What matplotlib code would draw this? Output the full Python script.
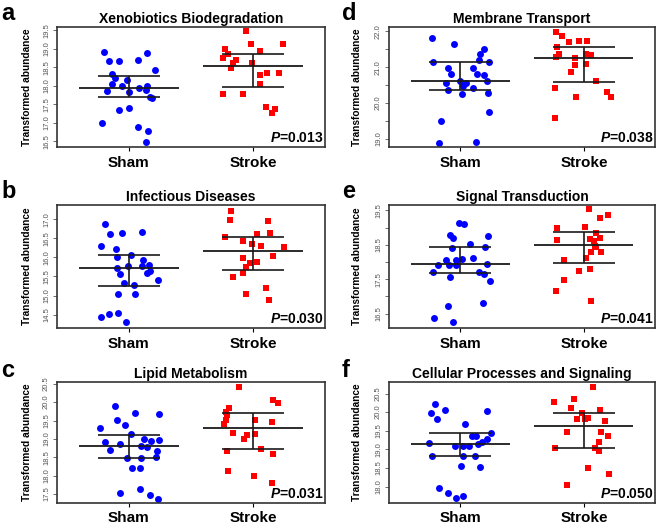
import numpy as np
import matplotlib
matplotlib.use('Agg')
import matplotlib.pyplot as plt

plt.rcParams['font.family'] = ['Liberation Sans', 'DejaVu Sans']
plt.rcParams['mathtext.fontset'] = 'custom'
plt.rcParams['mathtext.it'] = 'Liberation Sans:italic:bold'
plt.rcParams['mathtext.rm'] = 'Liberation Sans:bold'

groups = ['Sham', 'Stroke']

# a - Xenobiotics Biodegradation
xeno_sham = [18.92, 18.68, 18.68, 18.90, 18.69, 18.43, 18.33, 18.20, 18.15, 18.05, 18.00, 17.87,
             17.84, 17.95, 18.00, 17.88, 17.71, 17.66, 17.41, 17.36, 16.99, 16.88, 16.77, 16.48]
xeno_sham_jit = [-0.20, -0.156, -0.08, 0.148, 0.075, 0.21, -0.13, -0.11, -0.01, -0.134, -0.054, -0.177,
                 0.005, 0.086, 0.148, 0.14, 0.174, 0.188, 0.005, -0.075, -0.21, 0.072, 0.158, 0.14]
xeno_stroke = [19.47, 19.12, 19.14, 18.99, 18.87, 18.94, 18.76, 18.71, 18.63, 18.63,
               18.47, 18.35, 18.35, 18.29, 18.06, 17.77, 17.77, 17.44, 17.38, 17.28]
xeno_stroke_jit = [-0.062, -0.019, 0.236, -0.228, -0.2, 0.05, -0.24, -0.14, -0.16, -0.008,
                   -0.18, 0.107, 0.207, 0.054, 0.054, -0.247, -0.086, 0.1, 0.17, 0.148]
xeno_bars = [(17.71, 17.95, 18.26), (17.97, 18.55, 18.86)]

# b - Infectious Diseases
infect_sham = [16.87, 16.61, 16.63, 16.67, 16.30, 16.21, 16.02, 16.05, 15.93, 15.73, 15.77, 15.77, 15.79,
               15.56, 15.65, 15.58, 15.41, 15.33, 15.27, 15.03, 15.03, 14.43, 14.51, 14.53, 14.30]
infect_sham_jit = [-0.19, -0.151, -0.054, 0.108, -0.219, -0.103, -0.097, 0.022, 0.116, -0.095, -0.005, 0.103, 0.16,
                   -0.068, 0.17, 0.151, 0.238, -0.04, 0.04, -0.089, 0.054, -0.224, -0.154, -0.089, -0.022]
infect_stroke = [17.22, 16.98, 16.95, 16.54, 16.61, 16.65, 16.44, 16.34, 16.30, 16.28,
                 16.04, 15.97, 15.84, 15.89, 15.76, 15.49, 15.59, 15.19, 15.04, 14.89]
infect_stroke_jit = [-0.178, -0.19, 0.114, -0.224, 0.03, 0.13, -0.086, -0.008, 0.062, 0.246,
                     0.154, -0.081, -0.027, 0.027, -0.06, -0.162, -0.086, 0.1, -0.057, 0.127]
infect_bars = [(15.26, 15.71, 16.06), (15.68, 16.16, 16.54)]

# c - Lipid Metabolism
lipid_sham = [19.89, 19.71, 19.67, 19.52, 19.38, 19.30, 19.12, 18.91, 18.86, 19.00, 18.98, 18.94, 18.69,
              18.80, 18.77, 18.68, 18.48, 18.49, 18.51, 18.21, 18.21, 17.53, 17.63, 17.48, 17.37]
lipid_sham_jit = [-0.107, 0.053, 0.24, -0.091, -0.029, -0.227, 0.021, -0.192, -0.067, 0.125, 0.243, 0.181, -0.149,
                  0.099, 0.147, 0.229, -0.011, 0.099, 0.216, 0.029, 0.093, -0.072, 0.093, 0.171, 0.232]
lipid_stroke = [20.42, 20.05, 19.97, 19.85, 19.73, 19.65, 19.52, 19.40, 19.51, 19.47,
                19.15, 19.10, 18.99, 19.13, 18.72, 18.68, 18.60, 18.13, 17.98, 17.79]
lipid_stroke_jit = [-0.115, 0.16, 0.197, -0.197, -0.219, -0.213, -0.221, -0.237, 0.016, 0.147,
                    -0.16, -0.053, -0.077, 0.013, 0.061, -0.208, 0.155, -0.2, 0.008, 0.147]
lipid_bars = [(18.47, 18.80, 19.11), (18.72, 19.29, 19.70)]

# d - Membrane Transport
membr_sham = [21.82, 21.64, 21.52, 21.37, 21.15, 21.15, 21.20, 20.97, 20.98, 20.81, 20.82, 20.79, 20.61,
              20.55, 20.55, 20.49, 20.61, 20.37, 20.43, 20.25, 20.28, 19.75, 19.49, 18.90, 18.93]
membr_sham_jit = [-0.23, -0.046, 0.19, 0.16, -0.217, 0.23, 0.154, -0.095, 0.106, -0.07, 0.133, 0.19, 0.0,
                  -0.117, 0.049, 0.027, 0.217, -0.095, 0.106, 0.016, 0.222, 0.236, -0.152, -0.17, 0.13]
membr_stroke = [21.98, 21.86, 21.70, 21.74, 21.74, 21.57, 21.38, 21.29, 21.36, 21.34,
                21.27, 21.06, 21.10, 20.86, 20.63, 20.41, 20.18, 20.30, 20.18, 19.60]
membr_stroke_jit = [-0.228, -0.18, -0.12, -0.04, 0.024, -0.22, -0.2, -0.222, 0.016, 0.06,
                    -0.073, -0.073, 0.014, -0.1, 0.1, -0.236, -0.06, 0.187, 0.22, -0.233]
membr_bars = [(20.37, 20.62, 21.14), (20.58, 21.26, 21.57)]

# e - Signal Transduction
signal_sham = [19.14, 19.11, 18.80, 18.69, 18.75, 18.52, 18.41, 18.45, 18.06, 18.05, 18.10, 18.13, 17.92,
               17.92, 17.92, 17.94, 17.71, 17.70, 17.65, 17.55, 17.46, 16.80, 16.72, 16.37, 16.25]
signal_sham_jit = [-0.013, 0.032, -0.08, -0.056, 0.223, 0.08, -0.062, 0.204, -0.113, -0.032, 0.019, 0.1, -0.18,
                   -0.094, -0.035, 0.218, -0.223, 0.153, 0.19, -0.08, 0.242, 0.185, -0.102, -0.21, -0.054]
signal_stroke = [19.55, 19.38, 19.28, 18.98, 19.03, 18.85, 18.65, 18.67, 18.69, 18.60, 18.47,
                 18.43, 18.28, 18.30, 18.13, 18.06, 17.75, 17.79, 17.48, 17.16, 16.87]
signal_stroke_jit = [0.04, 0.196, 0.134, -0.218, 0.011, 0.097, -0.22, 0.048, 0.129, 0.083, 0.089,
                     0.102, 0.056, 0.137, 0.016, -0.159, -0.043, 0.046, -0.161, -0.226, 0.056]
signal_bars = [(17.69, 17.95, 18.45), (17.98, 18.51, 18.88)]

# f - Cellular Processes and Signaling
cell_sham = [20.23, 20.07, 19.98, 19.81, 20.02, 19.69, 19.44, 19.35, 19.35, 19.28, 19.21, 19.17, 19.15,
             19.08, 19.10, 19.10, 18.82, 18.83, 18.81, 18.55, 18.54, 17.96, 17.84, 17.70, 17.75]
cell_sham_jit = [-0.206, -0.12, -0.235, -0.187, 0.214, 0.037, 0.251, 0.094, 0.131, 0.214, 0.176, -0.249, 0.142,
                 -0.04, 0.024, 0.07, -0.23, 0.021, 0.118, 0.005, 0.158, -0.174, -0.099, -0.032, 0.027]
cell_stroke = [20.67, 20.28, 20.35, 20.12, 19.99, 20.05, 19.81, 19.81, 19.84, 19.77,
               19.48, 19.46, 19.37, 19.21, 19.03, 19.03, 18.95, 18.51, 18.34, 18.04]
cell_stroke_jit = [0.07, -0.238, -0.078, -0.104, -0.011, 0.131, -0.059, 0.011, 0.037, 0.168,
                   0.136, -0.134, 0.198, 0.126, -0.23, 0.094, 0.126, 0.037, 0.206, -0.134]
cell_bars = [(18.81, 19.15, 19.43), (19.03, 19.62, 19.98)]

titles = ['Xenobiotics Biodegradation', 'Infectious Diseases', 'Lipid Metabolism',
          'Membrane Transport', 'Signal Transduction', 'Cellular Processes and Signaling']
letters = ['a', 'b', 'c', 'd', 'e', 'f']
pvalues = ['0.013', '0.030', '0.031', '0.038', '0.041', '0.050']
yticks = [[16.5, 17.0, 17.5, 18.0, 18.5, 19.0, 19.5],
          [14.5, 15.0, 15.5, 16.0, 16.5, 17.0],
          [17.5, 18.0, 18.5, 19.0, 19.5, 20.0, 20.5],
          [19.0, 19.5, 20.0, 20.5, 21.0, 21.5, 22.0],
          [16.5, 17.0, 17.5, 18.0, 18.5, 19.0, 19.5],
          [18.0, 18.5, 19.0, 19.5, 20.0, 20.5]]
ytick_labels = [['16.5', '17.0', '17.5', '18.0', '18.5', '19.0', '19.5'],
                ['14.5', '15.0', '15.5', '16.0', '16.5', '17.0'],
                ['17.5', '18.0', '18.5', '19.0', '19.5', '20.0', '20.5'],
                ['19.0', '', '20.0', '', '21.0', '', '22.0'],
                ['16.5', '', '17.5', '', '18.5', '', '19.5'],
                ['18.0', '18.5', '19.0', '19.5', '20.0', '20.5']]
ylims = [(16.35, 19.59), (14.15, 17.37), (17.25, 20.55),
         (18.78, 22.12), (16.08, 19.66), (17.56, 20.81)]

panels = [
    (xeno_sham, xeno_sham_jit, xeno_stroke, xeno_stroke_jit, xeno_bars),
    (infect_sham, infect_sham_jit, infect_stroke, infect_stroke_jit, infect_bars),
    (lipid_sham, lipid_sham_jit, lipid_stroke, lipid_stroke_jit, lipid_bars),
    (membr_sham, membr_sham_jit, membr_stroke, membr_stroke_jit, membr_bars),
    (signal_sham, signal_sham_jit, signal_stroke, signal_stroke_jit, signal_bars),
    (cell_sham, cell_sham_jit, cell_stroke, cell_stroke_jit, cell_bars),
]

W, H = 660, 526
fig = plt.figure(figsize=(W / 100, H / 100), dpi=100)

col_left = [57, 389]
col_width = [268, 266]
row_top = [27, 205, 382]
row_bot = [147, 328, 503]
letter_x = [1, 342]
letter_base = [20, 198, 377]

for i, (sham, sham_jit, stroke, stroke_jit, bars) in enumerate(panels):
    col, row = i // 3, i % 3
    ax = fig.add_axes([col_left[col] / W, 1 - row_bot[row] / H,
                       col_width[col] / W, (row_bot[row] - row_top[row]) / H])

    ax.scatter(1 + np.array(sham_jit), sham, s=25, marker='o', color='#0000ff',
               linewidths=0, zorder=2)
    ax.scatter(2 + np.array(stroke_jit), stroke, s=21, marker='s', color='#ff0000',
               linewidths=0, zorder=2)

    for k, (lo, mid, hi) in enumerate(bars):
        x = k + 1
        ax.hlines(mid, x - 0.40, x + 0.40, color='#1a1a1a', lw=1.3, zorder=3)
        ax.hlines([lo, hi], x - 0.25, x + 0.25, color='#1a1a1a', lw=1.2, zorder=3)
        ax.vlines(x, lo, hi, color='#1a1a1a', lw=1.2, zorder=3)

    ax.set_xlim(0.425, 2.575)
    ax.set_ylim(*ylims[i])
    ax.set_xticks([1, 2])
    ax.set_xticklabels(groups, fontsize=11, fontweight='bold')
    ax.tick_params(axis='x', length=3, pad=2.5 if row == 2 else 3.5, width=0.8)
    ax.set_yticks(yticks[i])
    ax.set_yticklabels(ytick_labels[i], fontsize=5.5, color='#555555', rotation=90, va='center')
    ax.tick_params(axis='y', length=3, pad=2, width=0.6, color='#555555')
    for sp in ax.spines.values():
        sp.set_linewidth(1.2)
        sp.set_color('#333333')

    ax.set_title(titles[i], fontsize=10, fontweight='bold', pad=3)
    ax.set_ylabel('Transformed abundance', fontsize=7.3, fontweight='bold', va='center')
    ax.yaxis.set_label_coords(-0.112 if col == 0 else -0.12, 0.5)
    ax.text(0.995, 0.015, r'$P$=' + pvalues[i], transform=ax.transAxes, ha='right',
            va='bottom', fontsize=10, fontweight='bold')

    fig.text(letter_x[col] / W, 1 - letter_base[row] / H, letters[i], fontsize=17,
             fontweight='bold', va='baseline', ha='left')

fig.savefig('out.png', dpi=100)
